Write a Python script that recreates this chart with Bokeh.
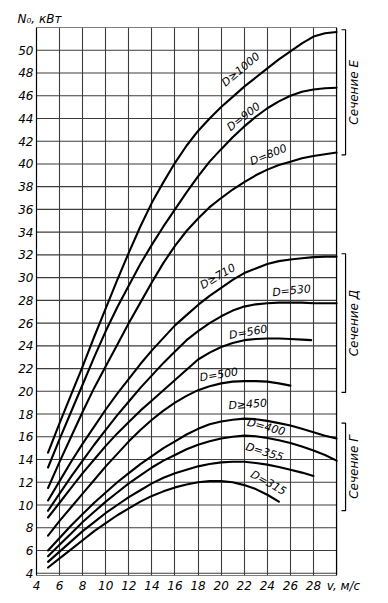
from bokeh.plotting import figure
from bokeh.models import Range1d, FixedTicker, ColumnDataSource
from bokeh.core.properties import value
from bokeh.embed import file_html
from bokeh.resources import INLINE

# ---- data ----
v_long = [5, 6, 7, 8, 9, 10, 11, 12, 13, 14, 15, 16, 17, 18, 19, 20, 21, 22, 23, 24, 25, 26, 27, 28, 29, 30]

n_1000 = [14.6, 17.2, 19.7, 22.2, 24.8, 27.3, 29.8, 32.2, 34.5, 36.6, 38.4, 40.1, 41.6, 42.9, 44.0, 45.0,
          45.9, 46.8, 47.6, 48.4, 49.2, 49.9, 50.6, 51.2, 51.5, 51.6]
n_900 = [13.3, 15.8, 18.2, 20.6, 23.0, 25.3, 27.4, 29.3, 31.2, 32.9, 34.5, 36.0, 37.5, 38.9, 40.2, 41.3,
         42.35, 43.3, 44.15, 44.9, 45.5, 46.0, 46.35, 46.55, 46.65, 46.7]
n_800 = [11.5, 13.8, 16.0, 18.2, 20.3, 22.2, 24.1, 26.0, 27.8, 29.6, 31.3, 32.8, 34.1, 35.2, 36.2, 37.0,
         37.75, 38.4, 39.0, 39.5, 39.9, 40.2, 40.5, 40.7, 40.85, 41.0]
n_710 = [10.4, 12.1, 13.8, 15.4, 16.9, 18.4, 19.8, 21.1, 22.4, 23.6, 24.7, 25.8, 26.7, 27.6, 28.4, 29.1,
         29.8, 30.4, 30.8, 31.2, 31.45, 31.6, 31.7, 31.8, 31.85, 31.85]
n_530 = [9.5, 11.0, 12.5, 13.9, 15.3, 16.6, 17.9, 19.1, 20.3, 21.4, 22.5, 23.5, 24.5, 25.3, 26.0, 26.6,
         27.1, 27.45, 27.65, 27.75, 27.8, 27.8, 27.8, 27.75, 27.75, 27.75]
v_560 = [5, 6, 7, 8, 9, 10, 11, 12, 13, 14, 15, 16, 17, 18, 19, 20, 21, 22, 23, 24, 25, 26, 27, 27.8]
n_560 = [8.9, 10.2, 11.5, 12.8, 14.0, 15.2, 16.3, 17.3, 18.3, 19.2, 20.1, 21.0, 21.9, 22.8, 23.4, 23.9,
         24.25, 24.5, 24.6, 24.65, 24.65, 24.6, 24.55, 24.5]
v_500 = [5, 6, 7, 8, 9, 10, 11, 12, 13, 14, 15, 16, 17, 18, 19, 20, 21, 22, 23, 24, 25, 26]
n_500 = [7.3, 8.6, 9.8, 11.0, 12.2, 13.4, 14.5, 15.6, 16.6, 17.5, 18.3, 19.0, 19.6, 20.1, 20.45, 20.7,
         20.85, 20.9, 20.9, 20.85, 20.7, 20.5]
n_450 = [6.0, 7.1, 8.2, 9.2, 10.2, 11.1, 12.0, 12.8, 13.6, 14.3, 15.0, 15.6, 16.2, 16.7, 17.1, 17.35,
         17.5, 17.6, 17.55, 17.4, 17.2, 17.0, 16.7, 16.4, 16.1, 15.85]
n_400 = [5.5, 6.5, 7.5, 8.5, 9.4, 10.3, 11.1, 11.9, 12.6, 13.3, 13.9, 14.4, 14.9, 15.3, 15.6, 15.85,
         16.0, 16.1, 16.05, 15.9, 15.7, 15.45, 15.15, 14.8, 14.4, 13.9]
v_355 = [5, 6, 7, 8, 9, 10, 11, 12, 13, 14, 15, 16, 17, 18, 19, 20, 21, 22, 23, 24, 25, 26, 27, 28]
n_355 = [5.0, 5.9, 6.8, 7.7, 8.5, 9.3, 10.0, 10.7, 11.3, 11.9, 12.4, 12.8, 13.1, 13.4, 13.6, 13.75,
         13.8, 13.8, 13.7, 13.55, 13.35, 13.1, 12.85, 12.55]
v_315 = [5, 6, 7, 8, 9, 10, 11, 12, 13, 14, 15, 16, 17, 18, 19, 20, 21, 22, 23, 24, 25]
n_315 = [4.5, 5.3, 6.1, 6.9, 7.7, 8.4, 9.1, 9.7, 10.3, 10.8, 11.2, 11.55, 11.8, 12.0, 12.1, 12.1,
         12.0, 11.75, 11.4, 10.9, 10.3]

curve_names = ["D≥1000", "D=900", "D=800", "D≥710", "D=530", "D=560",
               "D=500", "D≥450", "D=400", "D=355", "D=315"]

x_ticks = [4, 6, 8, 10, 12, 14, 16, 18, 20, 22, 24, 26, 28]
y_ticks = [4, 6, 8, 10, 12, 14, 16, 18, 20, 22, 24, 26, 28, 30, 32, 34, 36, 38, 40, 42, 44, 46, 48, 50]

section_names = ["Сечение Е", "Сечение Д", "Сечение Г"]
section_lo = [40.8, 19.9, 9.5]
section_hi = [51.8, 32.1, 17.2]

y_title = "N₀, кВт"
x_title = "v, м/с"

# ---- layout / style ----
X0, X1, XR = 4, 30, 34.5      # grid area 4..30, extra room on the right for the brackets
Y0, Y1 = 3.8, 52
XT = 30.6                     # where the x-axis title sits
FONT = value("DejaVu Sans")

p = figure(width=388, height=603, x_range=Range1d(X0, XR), y_range=Range1d(Y0, Y1),
           output_backend="svg", toolbar_location=None,
           min_border_left=36, min_border_right=0, min_border_top=27, min_border_bottom=28)
p.background_fill_color = "white"
p.border_fill_color = "white"
p.outline_line_color = None

# title (y-axis name) above the frame, at the left
p.title.text = y_title
p.title.align = "left"
p.title.offset = -19
p.title.standoff = 3
p.title.text_font = "DejaVu Sans"
p.title.text_font_style = "italic"
p.title.text_font_size = "12px"
p.title.text_color = "black"

for ax in (p.xaxis, p.yaxis):
    ax.major_tick_out = 0
    ax.major_tick_in = 0
    ax.minor_tick_out = 0
    ax.minor_tick_in = 0
    ax.major_label_text_font = "DejaVu Sans"
    ax.major_label_text_font_style = "italic"
    ax.major_label_text_font_size = "12px"
    ax.major_label_text_color = "black"
    ax.major_label_standoff = 3

p.xaxis.ticker = FixedTicker(ticks=x_ticks + [XT])
p.xaxis.major_label_overrides = {XT: x_title}
p.xaxis.axis_line_color = None
p.yaxis.ticker = FixedTicker(ticks=y_ticks)
p.yaxis.axis_line_color = "black"
p.yaxis.axis_line_width = 1.2

GRID = "#3c3c3c"
p.xgrid.ticker = FixedTicker(ticks=x_ticks + [X1])
p.xgrid.grid_line_color = GRID
p.xgrid.grid_line_width = 1.1
p.ygrid.grid_line_color = None

# horizontal grid lines only over the chart area
p.segment(x0=X0, x1=X1, y0=y_ticks, y1=y_ticks, line_color=GRID, line_width=1.1)
# frame: bottom, top and right edges
p.segment(x0=[X0, X0], x1=[X1, X1], y0=[Y0, Y1], y1=[Y0, Y1], line_color="black", line_width=1.2)
p.segment(x0=[X1], x1=[X1], y0=[Y0], y1=[Y1], line_color="black", line_width=1.2)

series = [(v_long, n_1000), (v_long, n_900), (v_long, n_800), (v_long, n_710), (v_long, n_530),
          (v_560, n_560), (v_500, n_500), (v_long, n_450), (v_long, n_400), (v_355, n_355), (v_315, n_315)]
for xs, ys in series:
    p.line(xs, ys, line_color="black", line_width=2.1, line_join="round", line_cap="round")

# curve labels
lab_v = [21.7, 21.95, 24.1, 19.7, 26.1, 22.35, 19.8, 22.3, 23.9, 23.75, 24.1]
lab_n = [48.3, 44.15, 40.8, 30.1, 28.85, 25.2, 21.45, 18.85, 16.85, 14.65, 11.95]
lab_a = [40, 38, 22, 30, 6, 10, 9, 4, -15, -17, -29]
src = ColumnDataSource(dict(x=lab_v, y=lab_n, t=curve_names, a=lab_a))
p.text(x="x", y="y", text="t", angle="a", angle_units="deg", source=src,
       text_font=FONT, text_font_style="italic", text_font_size="11px",
       text_align="center", text_baseline="middle", text_color="black")

# section brackets on the right
BX, BT = 30.78, 30.43
for lo, hi in zip(section_lo, section_hi):
    p.line([BT, BX, BX, BT], [hi, hi, lo, lo], line_color="black", line_width=1.2)
sec_mid = [(lo + hi) / 2 for lo, hi in zip(section_lo, section_hi)]
p.text(x=[31.55] * 3, y=sec_mid, text=section_names, angle=90, angle_units="deg",
       text_font=FONT, text_font_style="italic", text_font_size="12px",
       text_align="center", text_baseline="middle", text_color="black")

open("out.html", "w").write(file_html(p, INLINE))
